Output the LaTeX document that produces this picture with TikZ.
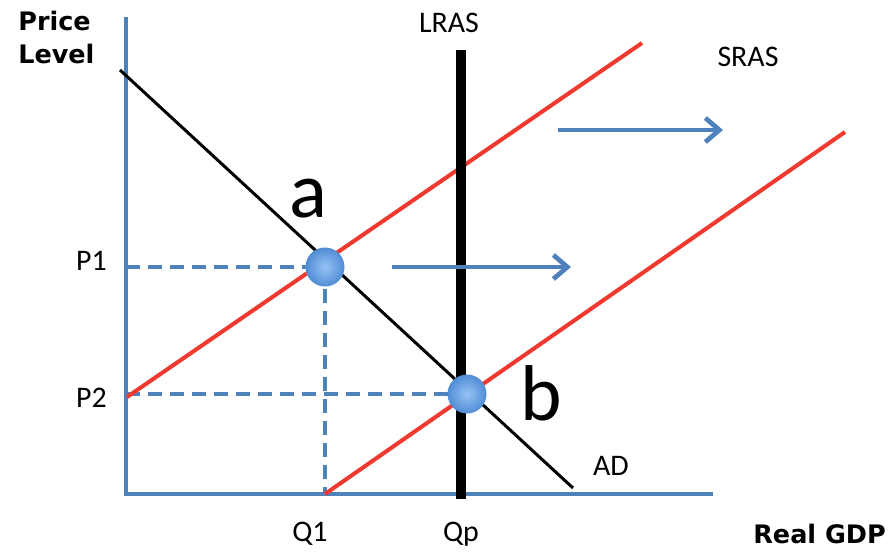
\documentclass[tikz,border=0pt]{standalone}
\usepackage{fontspec}
\setmainfont{Carlito}
\newfontfamily\titlefont{DejaVu Sans}
\usetikzlibrary{arrows.meta,positioning}
\definecolor{axisblue}{RGB}{79,129,189}
\definecolor{curvered}{RGB}{240,58,48}
\definecolor{dotlight}{RGB}{150,195,245}
\definecolor{dotdark}{RGB}{80,140,212}
\tikzset{
    as diagram/.style = {x=0.2mm, y=-0.2mm},
    axis/.style       = {draw=axisblue, line width=2.7pt},
    guide/.style      = {draw=axisblue, line width=2.5pt,
                         dash pattern=on 8pt off 4.5pt},
    demand/.style     = {draw=black, line width=1.7pt},
    supply/.style     = {draw=curvered, line width=2.3pt},
    longrun/.style    = {draw=black, line width=6pt},
    shiftarrow/.style = {draw=axisblue, line width=2.7pt,
                         -{Straight Barb[length=2.8mm, width=4.8mm]}},
    point/.style      = {circle, inner sep=0pt, minimum size=7.8mm,
                         shading=radial, inner color=dotlight,
                         outer color=dotdark},
    lbl/.style        = {inner sep=0pt, font=\fontsize{17}{20}\selectfont},
    title/.style      = {inner sep=0pt, align=left,
                         font=\titlefont\bfseries\fontsize{14.5}{18.7}\selectfont},
    letter/.style     = {inner sep=0pt, font=\fontsize{45}{50}\selectfont}
}
\def\yaxiscol{126}
\def\xaxisrow{494}

\begin{document}
\begin{tikzpicture}[as diagram]
\useasboundingbox (0,0) rectangle (893,555);

% Axes and their titles.
\coordinate (origin) at (\yaxiscol,\xaxisrow);
\coordinate (ytop) at (\yaxiscol,17);
\coordinate (xend) at (713,\xaxisrow);
\draw[axis] (ytop) -- (origin) -- (xend);
\node[title, anchor=north west] (pricelevel) at (18,11) {Price\\Level};
\node[title, anchor=base west] (realgdp) at (753,543) {Real GDP};

% Price and output levels of the two equilibria.
\coordinate (eqa) at (325,267);
\coordinate (eqb) at (467,394);
\coordinate (p1) at (\yaxiscol,267);
\coordinate (p2) at (\yaxiscol,394);
\coordinate (q1) at (325,\xaxisrow);
\draw[guide] (p1) -- (eqa);
\draw[guide] (eqa) -- (q1);
\draw[guide] (p2) -- (eqb);
\node[lbl, anchor=base east] (P1) at (107,270) {P1};
\node[lbl, anchor=base east] (P2) at (107,407) {P2};
\node[lbl, anchor=base] (Q1) at (310,541) {Q1};
\node[lbl, anchor=base] (Qp) at (461,541) {Qp};

% Demand, short-run and long-run supply.
\coordinate (adtop) at (120,70);
\coordinate (adfoot) at (573,488);
\coordinate (srasfoot) at (127,397);
\coordinate (srastop) at (642,43);
\coordinate (newsrasfoot) at (325,\xaxisrow);
\coordinate (newsrastop) at (845,132);
\coordinate (lrastop) at (461,50);
\coordinate (lrasfoot) at (461,499);
\draw[demand] (adtop) -- (adfoot);
\draw[supply] (srasfoot) -- (srastop);
\draw[supply] (newsrasfoot) -- (newsrastop);
\draw[longrun] (lrastop) -- (lrasfoot);
\node[lbl, anchor=base] (lras) at (449,33) {LRAS};
\node[lbl, anchor=base] (sras) at (748,67) {SRAS};
\node[lbl, anchor=base] (ad) at (611,475) {AD};

% Rightward shift of short-run supply.
\coordinate (shiftlow) at (392,267);
\coordinate (shiftlowend) at (571,267);
\coordinate (shifthigh) at (558,130);
\coordinate (shifthighend) at (723,130);
\draw[shiftarrow] (shiftlow) -- (shiftlowend);
\draw[shiftarrow] (shifthigh) -- (shifthighend);

% Equilibrium points.
\node[point] (a) at (eqa) {};
\node[point] (b) at (eqb) {};
\node[letter, anchor=base] (alabel) at (308,217) {a};
\node[letter, anchor=base] (blabel) at (541,420) {b};

\end{tikzpicture}
\end{document}
